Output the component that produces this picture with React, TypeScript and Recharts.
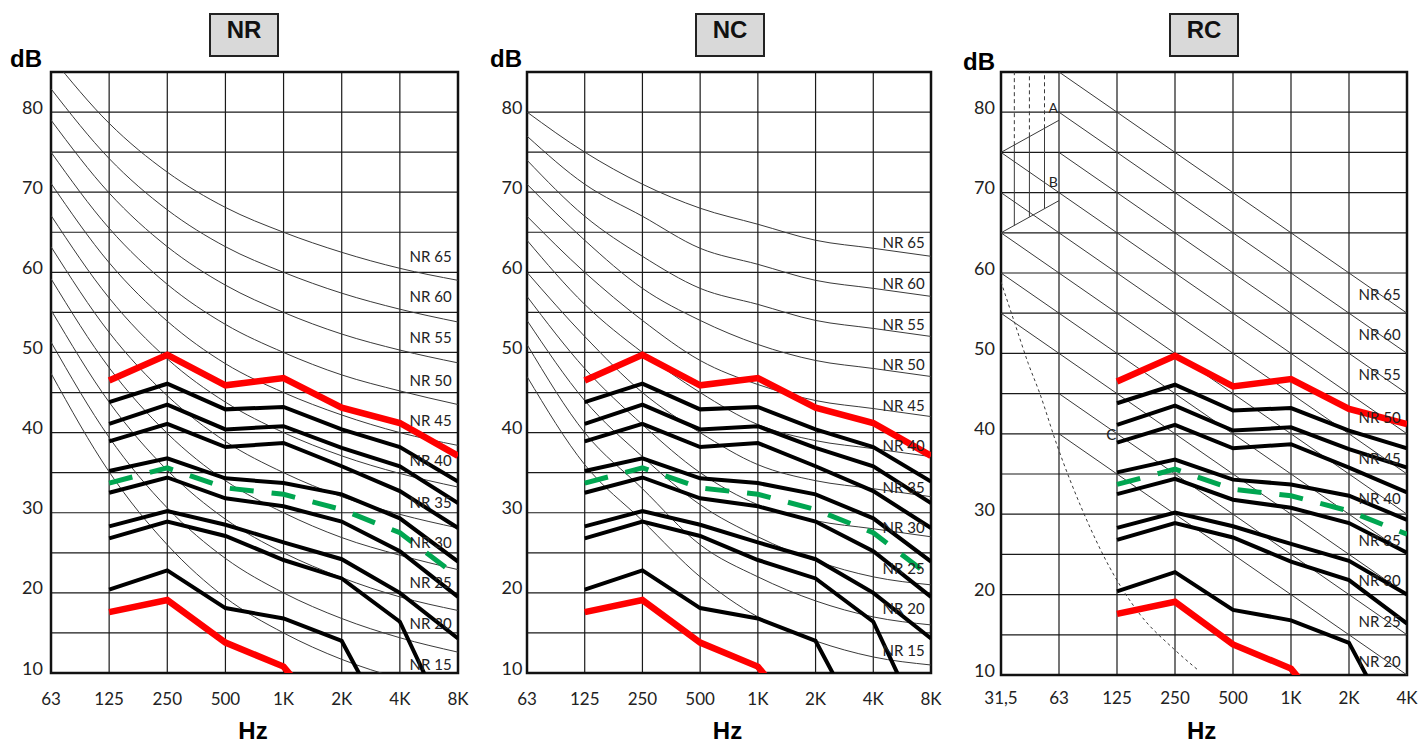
import React from 'react';
import {
  CartesianGrid,
  ComposedChart,
  Line,
  ReferenceArea,
  Scatter,
  XAxis,
  YAxis,
} from 'recharts';

const FONT = 'Lato, "Open Sans", sans-serif';
const BOLD_FONT = '"Liberation Sans", Arial, sans-serif';
const H = 743;

// axes
const nrBands = ['63', '125', '250', '500', '1K', '2K', '4K', '8K'];
const rcBands = ['31,5', '63', '125', '250', '500', '1K', '2K', '4K'];
const bandIdx = [0, 1, 2, 3, 4, 5, 6, 7];
const dbTicks = [10, 15, 20, 25, 30, 35, 40, 45, 50, 55, 60, 65, 70, 75, 80, 85];

// NR curves, 63 Hz .. 8 kHz
const nr65 = [86.9, 78.6, 72.5, 68.1, 65.0, 62.5, 60.5, 59.0];
const nr60 = [82.9, 74.2, 67.8, 63.2, 60.0, 57.4, 55.4, 53.8];
const nr55 = [79.0, 69.9, 63.2, 58.4, 55.0, 52.3, 50.3, 48.7];
const nr50 = [75.0, 65.5, 58.5, 53.5, 50.0, 47.2, 45.2, 43.5];
const nr45 = [71.1, 61.2, 53.9, 48.6, 45.0, 42.2, 40.0, 38.4];
const nr40 = [67.1, 56.8, 49.2, 43.8, 40.0, 37.1, 34.9, 33.2];
const nr35 = [63.2, 52.5, 44.6, 38.9, 35.0, 32.0, 29.8, 28.1];
const nr30 = [59.2, 48.1, 39.9, 34.0, 30.0, 26.9, 24.7, 22.9];
const nr25 = [55.3, 43.8, 35.3, 29.2, 25.0, 21.9, 19.5, 17.8];
const nr20 = [51.3, 39.4, 30.6, 24.3, 20.0, 16.8, 14.4, 12.6];
const nr15 = [47.4, 35.1, 26.0, 19.4, 15.0, 11.7, 9.3, 7.5];

// NC curves, 63 Hz .. 8 kHz
const nc65 = [80, 75, 71, 68, 66, 64, 63, 62];
const nc60 = [77, 71, 67, 63, 61, 59, 58, 57];
const nc55 = [74, 67, 62, 58, 56, 54, 53, 52];
const nc50 = [71, 64, 58, 54, 51, 49, 48, 47];
const nc45 = [67, 60, 54, 49, 46, 44, 43, 42];
const nc40 = [64, 56, 50, 45, 41, 39, 38, 37];
const nc35 = [60, 52, 45, 40, 36, 34, 33, 32];
const nc30 = [57, 48, 41, 35, 31, 29, 28, 27];
const nc25 = [54, 44, 37, 31, 27, 24, 22, 21];
const nc20 = [51, 40, 33, 26, 22, 19, 17, 16];
const nc15 = [47, 36, 29, 22, 17, 14, 12, 11];

// RC lines, 31,5 Hz .. 4 kHz
const rc65 = [null, 85, 80, 75, 70, 65, 60, 55];
const rc60 = [null, 80, 75, 70, 65, 60, 55, 50];
const rc55 = [null, 75, 70, 65, 60, 55, 50, 45];
const rc50 = [75, 70, 65, 60, 55, 50, 45, 40];
const rc45 = [70, 65, 60, 55, 50, 45, 40, 35];
const rc40 = [65, 60, 55, 50, 45, 40, 35, 30];
const rc35 = [60, 55, 50, 45, 40, 35, 30, 25];
const rc30 = [55, 50, 45, 40, 35, 30, 25, 20];
const rc25 = [null, 45, 40, 35, 30, 25, 20, 15];
const rc20 = [null, 40, 35, 30, 25, 20, 15, 10];

// RC extras: hearing threshold and A / B zone
const hearingX = [0, 0.24, 0.47, 0.67, 0.96, 1.41, 1.88, 2.4, 2.97, 3.4];
const hearingY = [58.9, 53.7, 48.75, 45, 38.7, 30.4, 23.3, 17.5, 13.3, 10.6];
const zoneEdgeX = [0, 1];
const zoneTopY = [75, 79];
const zoneBottomY = [65, 69];
const zoneMarkX = [0.23, 0.49, 0.75];
const zoneMarkLow = [65.9, 67.0, 68.0];
const zoneMarkHigh = [75.9, 77.0, 78.0];

// measured spectra, 125 Hz .. 8 kHz
const redHigh = [46.5, 49.7, 45.9, 46.8, 43.1, 41.2, 37.1];
const specA = [43.8, 46.1, 42.9, 43.2, 40.4, 38.2, 33.9];
const specB = [41.1, 43.5, 40.4, 40.8, 38.1, 35.8, 31.2];
const specC = [38.9, 41.1, 38.2, 38.7, 35.8, 32.7, 28.1];
const specD = [35.2, 36.8, 34.3, 33.7, 32.3, 29.3, 23.9];
const target = [33.7, 35.6, 33.1, 32.3, 30.4, 27.5, 22.0];
const specE = [32.5, 34.4, 31.8, 30.8, 28.9, 25.2, 19.5];
const specF = [28.3, 30.2, 28.5, 26.3, 24.2, 20.0, 14.3];
const specG = [26.8, 28.9, 27.1, 24.1, 21.8, 16.4, 1.0];
const specH = [20.4, 22.8, 18.1, 16.8, 14.0, 0.5, null];
const redLow = [17.6, 19.1, 13.8, 10.8, 2.0, null, null];

// curve labels
const nrNames = ['NR 65', 'NR 60', 'NR 55', 'NR 50', 'NR 45', 'NR 40', 'NR 35', 'NR 30', 'NR 25', 'NR 20', 'NR 15'];
const nrLabelDb = [62.0, 57.0, 51.9, 46.6, 41.6, 36.6, 31.4, 26.4, 21.4, 16.2, 11.1];
const ncLabelDb = [63.8, 58.7, 53.6, 48.6, 43.4, 38.4, 33.25, 28.25, 23.1, 18.1, 12.9];
const rcNames = ['NR 65', 'NR 60', 'NR 55', 'NR 50', 'NR 45', 'NR 40', 'NR 35', 'NR 30', 'NR 25', 'NR 20'];
const rcLabelDb = [57.4, 52.4, 47.4, 42.1, 37.0, 32.0, 26.8, 21.8, 16.7, 11.7];
const labelX = 6.89;

type Pt = { x: number; y: number | null };
type Mark = { x: number; y: number; label: string; size: number };
type Thin = { data: Pt[]; curve: 'monotone' | 'linear'; dash?: string };

const pts = (xs: number[], ys: (number | null)[]): Pt[] =>
  xs.map((x, i) => ({ x, y: ys[i] ?? null }));

const spectra = [
  { v: specA, color: '#000', w: 4 },
  { v: specB, color: '#000', w: 4 },
  { v: specC, color: '#000', w: 4 },
  { v: specD, color: '#000', w: 4 },
  { v: specE, color: '#000', w: 4 },
  { v: specF, color: '#000', w: 4 },
  { v: specG, color: '#000', w: 4 },
  { v: specH, color: '#000', w: 4 },
  { v: target, color: '#00a651', w: 5, dash: '24 18' },
  { v: redHigh, color: '#ff0000', w: 6.5 },
  { v: redLow, color: '#ff0000', w: 6.5 },
];

const curveMarks = (names: string[], levels: number[]): Mark[] =>
  names.map((label, i) => ({ x: labelX, y: levels[i], label, size: 15 }));

const zoneLines: Thin[] = [
  { data: pts(zoneEdgeX, zoneTopY), curve: 'linear' },
  { data: pts(zoneEdgeX, zoneBottomY), curve: 'linear' },
  ...zoneMarkX.map((x, i) => ({ data: pts([x, x], [zoneMarkLow[i], zoneMarkHigh[i]]), curve: 'linear' as const })),
  ...zoneMarkX.map((x, i) => ({ data: pts([x, x], [zoneMarkHigh[i], 85]), curve: 'linear' as const, dash: '4 3' })),
  { data: pts(hearingX, hearingY), curve: 'monotone', dash: '3 3' },
];

type PanelSpec = {
  left: number;
  width: number;
  rightGap: number;
  bottom: number;
  bands: string[];
  curves: Thin[];
  specX: number[];
  marks: Mark[];
  yGap: number;
  xGap: number;
};

const panels: PanelSpec[] = [
  {
    left: 0, width: 470, rightGap: 12, bottom: 673, bands: nrBands,
    curves: [nr65, nr60, nr55, nr50, nr45, nr40, nr35, nr30, nr25, nr20, nr15].map((v) => ({ data: pts(bandIdx, v), curve: 'monotone' as const })),
    specX: [1, 2, 3, 4, 5, 6, 7],
    marks: curveMarks(nrNames, nrLabelDb),
    yGap: 8, xGap: 25,
  },
  {
    left: 476, width: 470, rightGap: 15, bottom: 673, bands: nrBands,
    curves: [nc65, nc60, nc55, nc50, nc45, nc40, nc35, nc30, nc25, nc20, nc15].map((v) => ({ data: pts(bandIdx, v), curve: 'monotone' as const })),
    specX: [1, 2, 3, 4, 5, 6, 7],
    marks: curveMarks(nrNames, ncLabelDb),
    yGap: 4.5, xGap: 25,
  },
  {
    left: 950, width: 469, rightGap: 12, bottom: 675, bands: rcBands,
    curves: [
      ...[rc65, rc60, rc55, rc50, rc45, rc40, rc35, rc30, rc25, rc20].map((v) => ({ data: pts(bandIdx, v), curve: 'linear' as const })),
      ...zoneLines,
    ],
    specX: [2, 3, 4, 5, 6, 7],
    marks: [
      ...curveMarks(rcNames, rcLabelDb),
      { x: 0.9, y: 80.6, label: 'A', size: 14 },
      { x: 0.9, y: 71.4, label: 'B', size: 14 },
      { x: 1.9, y: 40.0, label: 'C', size: 15 },
    ],
    yGap: 6, xGap: 22.5,
  },
];

const titles = [
  { text: 'NR', x: 209 },
  { text: 'NC', x: 695 },
  { text: 'RC', x: 1169 },
];
const dbLabels = [
  { x: 10, y: 46.7 },
  { x: 490, y: 46.7 },
  { x: 963, y: 49.5 },
];
const hzCenters = [253, 727.5, 1201.7];

const Panel = ({ spec }: { spec: PanelSpec }) => {
  const { left, width, rightGap, bottom, bands, curves, specX, marks, yGap, xGap } = spec;
  return (
    <div style={{ position: 'absolute', left, top: 0, width, height: H }}>
      <ComposedChart width={width} height={H} margin={{ top: 72, right: rightGap, bottom: 0, left: 0 }}>
        <CartesianGrid stroke='#1a1a1a' strokeWidth={1.2} />
        <XAxis
          type='number'
          dataKey='x'
          domain={[0, 7]}
          ticks={bandIdx}
          interval={0}
          allowDataOverflow
          height={H - bottom}
          axisLine={false}
          tickLine={false}
          tickSize={0}
          tickMargin={xGap}
          tick={(p: any) => (
            <text x={p.x} y={p.y} textAnchor='middle' dominantBaseline='central' fontSize={17} fill='#222' fontFamily={FONT}>
              {bands[p.payload.value]}
            </text>
          )}
        />
        <YAxis
          type='number'
          domain={[10, 85]}
          ticks={dbTicks}
          interval={0}
          allowDataOverflow
          width={51}
          axisLine={false}
          tickLine={false}
          tickSize={0}
          tickMargin={yGap}
          tick={(p: any) =>
            p.payload.value % 10 === 0 ? (
              <text x={p.x} y={p.y - 5.5} textAnchor='end' dominantBaseline='central' fontSize={18} fill='#222' fontFamily={FONT}>
                {p.payload.value}
              </text>
            ) : (
              <g />
            )
          }
        />
        <ReferenceArea x1={0} x2={7} y1={10} y2={85} fill='none' stroke='#111' strokeWidth={2.5} />

        {/* thin reference curves */}
        {curves.map((c, i) => (
          <Line
            key={`thin-${i}`}
            data={c.data}
            dataKey='y'
            type={c.curve}
            stroke='#3a3a3a'
            strokeWidth={1}
            strokeDasharray={c.dash}
            dot={false}
            activeDot={false}
            isAnimationActive={false}
          />
        ))}

        {/* measured spectra */}
        {spectra.map((s, i) => (
          <Line
            key={`spec-${i}`}
            data={pts(specX, s.v.slice(0, specX.length))}
            dataKey='y'
            type='linear'
            stroke={s.color}
            strokeWidth={s.w}
            strokeDasharray={s.dash}
            dot={false}
            activeDot={false}
            isAnimationActive={false}
          />
        ))}

        {/* curve names */}
        <Scatter
          data={marks}
          dataKey='y'
          isAnimationActive={false}
          shape={(p: any) => (
            <text
              x={p.cx}
              y={p.cy}
              textAnchor={p.payload.label.length > 1 ? 'end' : 'middle'}
              dominantBaseline='central'
              fontSize={p.payload.size}
              fill='#222'
              fontFamily={FONT}
            >
              {p.payload.label}
            </text>
          )}
        />
      </ComposedChart>
    </div>
  );
};

export default function App() {
  return (
    <div style={{ position: 'absolute', left: 0, top: 0, width: 1419, height: H, background: '#fff', overflow: 'hidden' }}>
      {panels.map((p, i) => (
        <Panel key={i} spec={p} />
      ))}

      {titles.map((t) => (
        <div
          key={t.text}
          style={{
            position: 'absolute',
            left: t.x,
            top: 13,
            width: 70,
            height: 44,
            boxSizing: 'border-box',
            border: '2px solid #222',
            background: '#d9d9d9',
          }}
        >
          <div
            style={{
              position: 'absolute',
              left: 0,
              top: 3,
              width: 66,
              textAlign: 'center',
              font: `bold 24px/24px ${BOLD_FONT}`,
              color: '#111',
            }}
          >
            {t.text}
          </div>
        </div>
      ))}

      {dbLabels.map((d, i) => (
        <div key={i} style={{ position: 'absolute', left: d.x, top: d.y, font: `bold 24px/24px ${BOLD_FONT}`, color: '#000' }}>
          dB
        </div>
      ))}

      {hzCenters.map((c, i) => (
        <div
          key={i}
          style={{ position: 'absolute', left: c - 50, top: 721, width: 100, textAlign: 'center', font: `bold 24px/20px ${BOLD_FONT}`, color: '#000' }}
        >
          Hz
        </div>
      ))}
    </div>
  );
}
